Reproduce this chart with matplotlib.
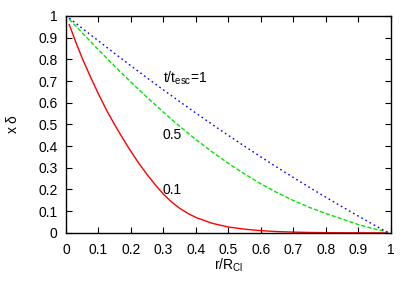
import numpy as np
import matplotlib
matplotlib.use("Agg")
import matplotlib.pyplot as plt

# values
r_01 = [0.01, 0.03, 0.05, 0.075, 0.1, 0.125, 0.15, 0.175, 0.2, 0.225, 0.25,
        0.275, 0.3, 0.325, 0.35, 0.375, 0.4, 0.45, 0.5, 0.55, 0.6, 0.65,
        0.7, 0.75, 0.8, 0.85, 0.9, 0.95, 0.99]
xd_01 = [0.96, 0.88, 0.805, 0.72, 0.64, 0.565, 0.498, 0.435, 0.375, 0.319, 0.268,
         0.221, 0.178, 0.142, 0.113, 0.09, 0.071, 0.044, 0.027, 0.017, 0.010, 0.006,
         0.0035, 0.0018, 0.0008, 0.0003, 0.0001, 0.0, 0.0]

r = [0.01, 0.05, 0.1, 0.15, 0.2, 0.25, 0.3, 0.35, 0.4, 0.45, 0.5,
     0.55, 0.6, 0.65, 0.7, 0.75, 0.8, 0.85, 0.9, 0.95, 0.99]
xd_05 = [0.985, 0.922, 0.844, 0.768, 0.695, 0.624, 0.556, 0.491, 0.430, 0.373, 0.320,
         0.271, 0.226, 0.185, 0.149, 0.117, 0.089, 0.064, 0.038, 0.018, 0.004]
xd_1 = [0.99, 0.943, 0.885, 0.827, 0.770, 0.714, 0.659, 0.605, 0.552, 0.500, 0.449,
        0.399, 0.350, 0.302, 0.255, 0.209, 0.164, 0.120, 0.077, 0.035, 0.002]

ticks = [0, 0.1, 0.2, 0.3, 0.4, 0.5, 0.6, 0.7, 0.8, 0.9, 1]
tick_labels = ["0", "0.1", "0.2", "0.3", "0.4", "0.5", "0.6", "0.7", "0.8", "0.9", "1"]

plt.rcParams['font.family'] = ['Liberation Sans', 'DejaVu Sans']
plt.rcParams['font.size'] = 10
plt.rcParams['mathtext.fontset'] = 'custom'
plt.rcParams['mathtext.rm'] = 'Liberation Sans'
plt.rcParams['mathtext.it'] = 'Liberation Sans'

fig = plt.figure(figsize=(4.15, 2.9), dpi=100)
ax = fig.add_axes([0.159, 0.197, 0.783, 0.748])

ax.plot(r_01, xd_01, color="#ff0000", lw=1.0, ls="-")
ax.plot(r, xd_05, color="#00e600", lw=1.0, ls=(0, (3, 1.5)))
ax.plot(r, xd_1, color="#0000ff", lw=1.0, ls=(0, (1.2, 2.2)))

ax.text(0.298, 0.714, r"t/t$_{\rm esc}$=1", va="center", ha="left")
ax.text(0.298, 0.45, "0.5", va="center", ha="left")
ax.text(0.298, 0.198, "0.1", va="center", ha="left")

ax.set_xlim(0, 1)
ax.set_ylim(0, 1)
ax.set_xticks(ticks)
ax.set_yticks(ticks)
ax.set_xticklabels(tick_labels)
ax.set_yticklabels(tick_labels)
ax.tick_params(direction="in", length=4.5, width=0.8, top=True, right=True)
ax.tick_params(axis="x", pad=7)
ax.tick_params(axis="y", pad=6)
for s in ax.spines.values():
    s.set_linewidth(1.0)

ax.set_xlabel(r"r/R$_{\rm Cl}$", labelpad=0)
ax.set_ylabel(r"x $\delta$", labelpad=13)

fig.savefig("out.png", dpi=100)
